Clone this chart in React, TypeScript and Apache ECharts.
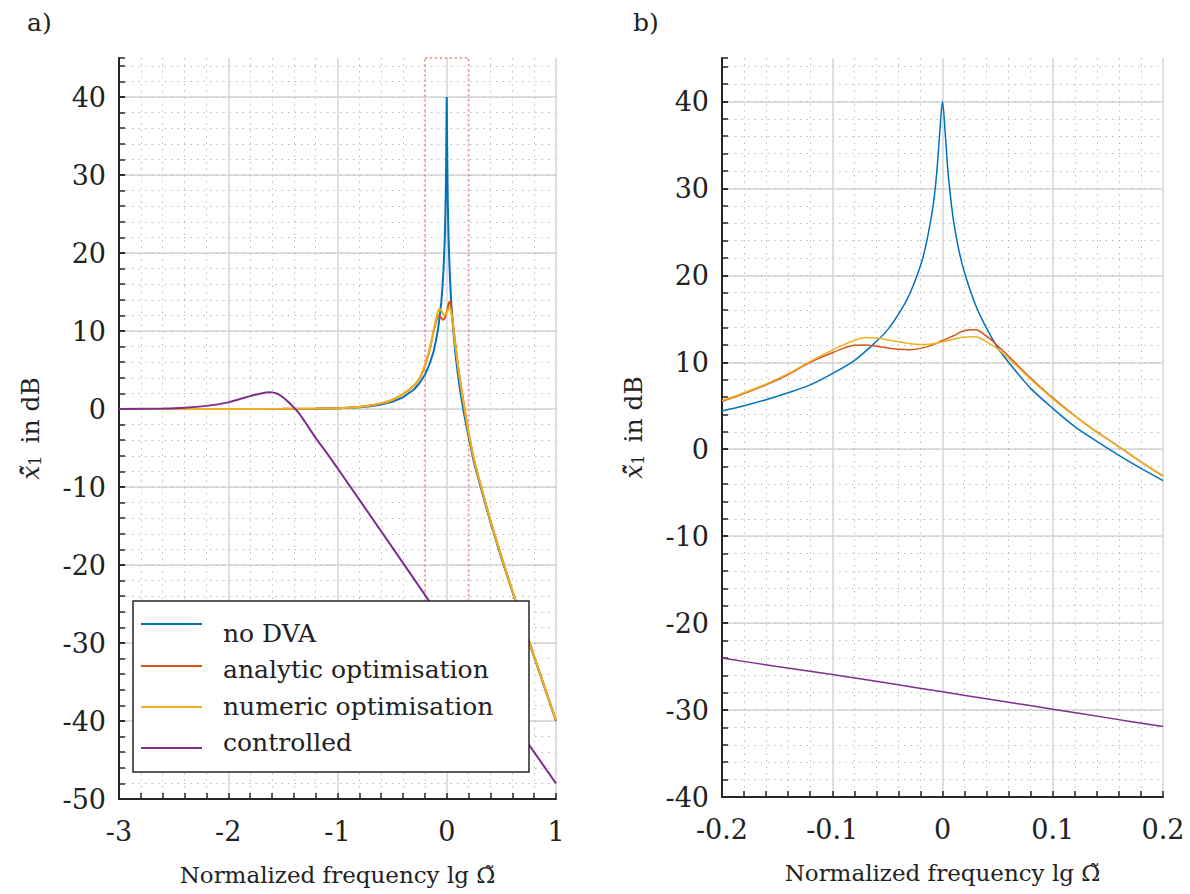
import React, { useEffect, useRef } from "react";
import * as echarts from "echarts";

// ---------- data (lg of normalized frequency, amplitude in dB) ----------
// part of panel a left of the zoom window
const lowFreq = [-3, -2.6, -2.2, -2, -1.5, -1.2, -1, -0.8, -0.7, -0.6, -0.5, -0.4, -0.3, -0.25];
const noDvaLow = [0, 0, 0, 0, 0.01, 0.03, 0.09, 0.22, 0.35, 0.57, 0.92, 1.5, 2.5, 3.3];
const analyticLow = [0, 0, 0, 0, 0.02, 0.05, 0.1, 0.27, 0.45, 0.72, 1.15, 1.9, 3.0, 3.9];
const numericLow = [0, 0, 0, 0, 0.02, 0.05, 0.1, 0.27, 0.45, 0.72, 1.15, 1.9, 3.05, 3.95];

// zoom window (panel b)
const zoomFreq = [-0.2, -0.18, -0.16, -0.14, -0.12, -0.1, -0.09, -0.08, -0.07, -0.06, -0.05, -0.04, -0.03, -0.02, -0.01, 0, 0.01, 0.02, 0.03, 0.04, 0.05, 0.06, 0.07, 0.08, 0.09, 0.1, 0.12, 0.14, 0.16, 0.18, 0.2];
const analyticZoom = [5.5, 6.4, 7.4, 8.6, 10.0, 11.1, 11.6, 11.95, 12.0, 11.85, 11.65, 11.5, 11.45, 11.6, 11.95, 12.5, 13.05, 13.65, 13.75, 13.0, 11.9, 10.7, 9.4, 8.2, 7.0, 5.9, 3.85, 2.0, 0.3, -1.45, -3.1];
const numericZoom = [5.6, 6.5, 7.5, 8.7, 10.1, 11.4, 12.0, 12.5, 12.85, 12.8, 12.6, 12.35, 12.15, 12.05, 12.1, 12.35, 12.65, 12.9, 12.95, 12.35, 11.55, 10.45, 9.25, 8.05, 6.9, 5.8, 3.8, 1.95, 0.3, -1.45, -3.05];

const noDvaZoomFreq = [-0.2, -0.18, -0.16, -0.14, -0.12, -0.1, -0.08, -0.06, -0.05, -0.04, -0.03, -0.02, -0.015, -0.01, -0.0075, -0.005, -0.0025, 0, 0.0025, 0.005, 0.0075, 0.01, 0.015, 0.02, 0.03, 0.04, 0.05, 0.06, 0.08, 0.1, 0.12, 0.14, 0.16, 0.18, 0.2];
const noDvaZoom = [4.4, 5.0, 5.7, 6.5, 7.4, 8.7, 10.2, 12.4, 13.7, 15.5, 17.8, 21.1, 23.5, 26.8, 29.0, 32.1, 36.4, 40, 36.3, 31.9, 28.8, 26.3, 22.8, 20.3, 16.6, 13.9, 11.7, 10.0, 7.0, 4.7, 2.6, 0.9, -0.7, -2.2, -3.6];

// part of panel a right of the zoom window
const highFreq = [0.25, 0.3, 0.4, 0.5, 0.6, 0.7, 0.8, 0.9, 1];
const noDvaHigh = [-6.9, -9.5, -14.5, -19.1, -23.4, -27.6, -31.8, -35.9, -40.0];
const analyticHigh = [-6.5, -9.2, -14.3, -18.9, -23.3, -27.5, -31.7, -35.8, -39.9];
const numericHigh = [-6.45, -9.2, -14.3, -18.9, -23.3, -27.5, -31.7, -35.8, -39.9];

// controlled system
const controlledFreq = [-3, -2.6, -2.4, -2.2, -2, -1.9, -1.8, -1.7, -1.62, -1.55, -1.5, -1.45, -1.4, -1.35, -1.3, -1.2, -1.1, -1, -0.5, 0, 0.5, 1];
const controlled = [0, 0.05, 0.15, 0.4, 0.85, 1.25, 1.65, 2.0, 2.14, 1.95, 1.5, 0.9, 0.2, -0.6, -1.6, -3.7, -5.6, -7.6, -17.7, -27.9, -38.0, -48.0];
const controlledZoomFreq = [-0.2, -0.15, -0.1, -0.05, 0, 0.05, 0.1, 0.15, 0.2];
const controlledZoom = [-24.0, -25.0, -25.9, -26.9, -27.9, -28.9, -29.9, -30.9, -31.9];

// zoom window marked in panel a
const zoomBoxX = [-0.2, 0.2];
const zoomBoxY = [-40, 45];

const seriesNames = ["no DVA", "analytic optimisation", "numeric optimisation", "controlled"];
const seriesColors = ["#0072BD", "#D95319", "#EDB120", "#7E2F8E"];

const FONT = "DejaVu Serif";
const TXT = "#222222";
const AX = "#262626";

const zip = (xs: number[], ys: number[]) => xs.map((x, i) => [x, ys[i]]);

const txt = (fontSize: number, extra: any = {}) => ({
  fontSize,
  fontFamily: FONT,
  fontWeight: "normal",
  fontStyle: "normal",
  color: TXT,
  ...extra,
});

function buildOption() {
  const xName = "Normalized frequency lg \u03A9\u0303";
  const yName = "{m|x\u0303\u0302}{s|1} in dB";

  const mkX = (gridIndex: number, min: number, max: number, interval: number) => ({
    type: "value",
    gridIndex,
    min,
    max,
    interval,
    position: "bottom",
    name: xName,
    nameLocation: "middle",
    nameGap: 64,
    nameTextStyle: txt(23),
    axisLine: { show: true, onZero: false, lineStyle: { color: AX, width: 2 } },
    axisTick: { show: true, inside: true, length: 6, lineStyle: { color: AX, width: 1.5 } },
    minorTick: { show: true, splitNumber: 5, length: 6, lineStyle: { color: AX, width: 1.5 } },
    axisLabel: txt(27, { margin: 19, hideOverlap: false }),
    splitLine: { show: true, lineStyle: { color: "#d4d4d4", width: 1.5 } },
    minorSplitLine: { show: true, lineStyle: { color: "#bdbdbd", width: 1, type: [1.5, 5] } },
  });

  const mkYMajor = (gridIndex: number, min: number, max: number) => ({
    type: "value",
    gridIndex,
    min,
    max,
    interval: 10,
    position: "left",
    name: yName,
    nameLocation: "middle",
    nameGap: 76,
    nameRotate: 90,
    nameTextStyle: txt(25, {
      rich: {
        m: { fontSize: 25, fontFamily: FONT, fontStyle: "italic", fontWeight: "normal", color: TXT },
        s: { fontSize: 16, fontFamily: FONT, fontStyle: "normal", fontWeight: "normal", color: TXT, padding: [10, 4, 0, 0] },
      },
    }),
    axisLine: { show: true, onZero: false, lineStyle: { color: AX, width: 2 } },
    axisTick: { show: true, inside: true, length: 6, lineStyle: { color: AX, width: 1.5 } },
    axisLabel: txt(27, { margin: 13, showMaxLabel: false }),
    splitLine: { show: true, showMaxLine: false, lineStyle: { color: "#d4d4d4", width: 1.5 } },
  });

  const mkYMinor = (gridIndex: number, min: number, max: number) => ({
    type: "value",
    gridIndex,
    min,
    max,
    interval: 2,
    position: "left",
    axisLine: { show: false, onZero: false },
    axisTick: { show: true, inside: true, length: 6, lineStyle: { color: AX, width: 1.5 } },
    axisLabel: { show: false },
    splitLine: { show: true, showMaxLine: false, lineStyle: { color: "#bdbdbd", width: 1, type: [1.5, 5] } },
  });

  const leftData = [
    zip([...lowFreq, ...noDvaZoomFreq, ...highFreq], [...noDvaLow, ...noDvaZoom, ...noDvaHigh]),
    zip([...lowFreq, ...zoomFreq, ...highFreq], [...analyticLow, ...analyticZoom, ...analyticHigh]),
    zip([...lowFreq, ...zoomFreq, ...highFreq], [...numericLow, ...numericZoom, ...numericHigh]),
    zip(controlledFreq, controlled),
  ];
  const rightData = [
    zip(noDvaZoomFreq, noDvaZoom),
    zip(zoomFreq, analyticZoom),
    zip(zoomFreq, numericZoom),
    zip(controlledZoomFreq, controlledZoom),
  ];

  const series: any[] = [];
  leftData.forEach((d, i) => {
    const s: any = {
      name: seriesNames[i],
      type: "line",
      xAxisIndex: 0,
      yAxisIndex: 0,
      data: d,
      symbol: "none",
      showSymbol: false,
      smooth: i === 0 ? false : 0.3,
      lineStyle: { color: seriesColors[i], width: 2 },
      itemStyle: { color: seriesColors[i] },
      z: 3 + i,
    };
    if (i === 0) {
      s.markArea = {
        silent: true,
        itemStyle: {
          color: "rgba(0,0,0,0)",
          borderColor: "rgba(240,120,120,0.75)",
          borderWidth: 2,
          borderType: [2, 3],
        },
        data: [[{ coord: [zoomBoxX[0], zoomBoxY[1]] }, { coord: [zoomBoxX[1], zoomBoxY[0]] }]],
      };
    }
    series.push(s);
  });
  rightData.forEach((d, i) => {
    series.push({
      name: seriesNames[i],
      type: "line",
      xAxisIndex: 1,
      yAxisIndex: 2,
      data: d,
      symbol: "none",
      showSymbol: false,
      smooth: 0.3,
      lineStyle: { color: seriesColors[i], width: 1.5 },
      itemStyle: { color: seriesColors[i] },
      z: 3 + i,
    });
  });

  // legend box (panel a)
  const legendLineY = [624, 666, 707, 748];
  const legendTextY = [633, 669, 706, 742];
  const graphic: any[] = [
    {
      type: "rect",
      z: 100,
      shape: { x: 133, y: 601, width: 396, height: 171 },
      style: { fill: "#ffffff", stroke: AX, lineWidth: 1.5 },
    },
  ];
  seriesNames.forEach((n, i) => {
    graphic.push({
      type: "line",
      z: 101,
      shape: { x1: 141, y1: legendLineY[i], x2: 202, y2: legendLineY[i] },
      style: { stroke: seriesColors[i], lineWidth: 2 },
    });
    graphic.push({
      type: "text",
      z: 101,
      x: 223,
      y: legendTextY[i],
      style: {
        text: n,
        fontSize: 25,
        fontFamily: FONT,
        fontWeight: "normal",
        fontStyle: "normal",
        fill: TXT,
        verticalAlign: "middle",
        align: "left",
      },
    });
  });

  return {
    animation: false,
    backgroundColor: "#ffffff",
    title: [
      { text: "a)", left: 22, top: 5, textStyle: txt(25) },
      { text: "b)", left: 628, top: 5, textStyle: txt(25) },
    ],
    grid: [
      { left: 119, top: 58, width: 437, height: 741, outerBoundsMode: "none" },
      { left: 722, top: 58, width: 441, height: 739, outerBoundsMode: "none" },
    ],
    xAxis: [mkX(0, -3, 1, 1), mkX(1, -0.2, 0.2, 0.1)],
    yAxis: [mkYMajor(0, -50, 45), mkYMinor(0, -50, 45), mkYMajor(1, -40, 45), mkYMinor(1, -40, 45)],
    series,
    graphic,
  };
}

export default function App() {
  const ref = useRef<HTMLDivElement>(null);
  useEffect(() => {
    if (!ref.current) return;
    const chart = echarts.init(ref.current, undefined, { renderer: "svg" });
    chart.setOption(buildOption() as any);
    return () => chart.dispose();
  }, []);
  return (
    <div
      ref={ref}
      style={{ position: "absolute", left: 0, top: 0, width: 1190, height: 894, background: "#fff" }}
    />
  );
}
